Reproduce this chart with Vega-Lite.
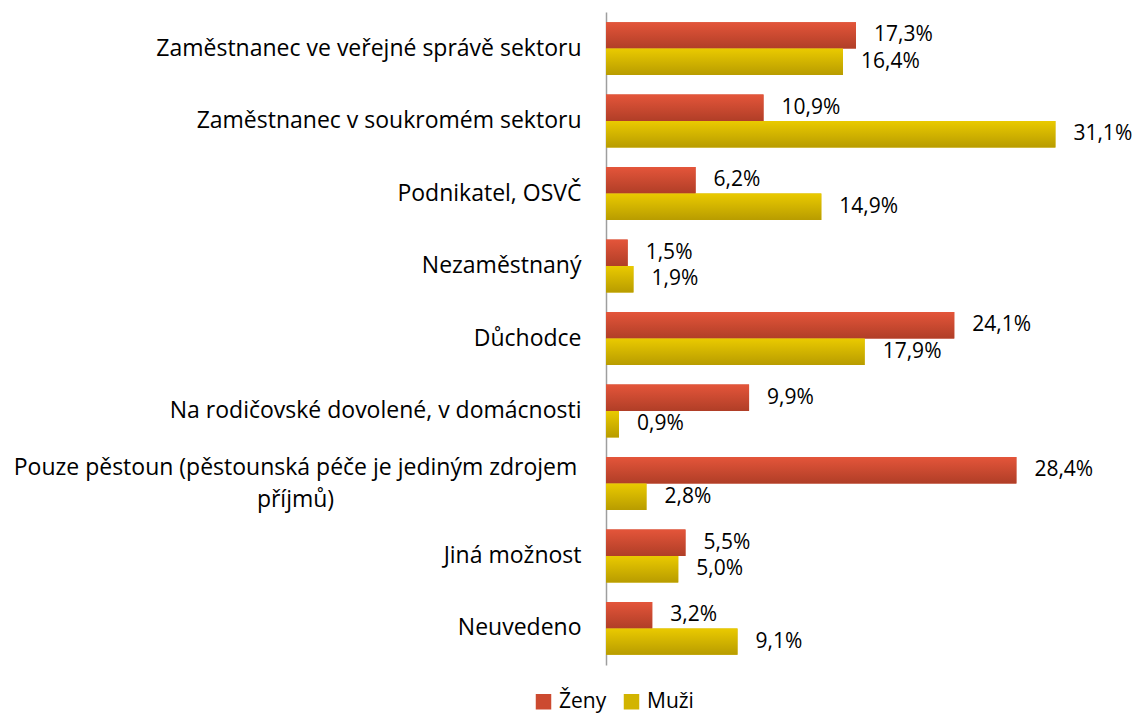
{
  "$schema": "https://vega.github.io/schema/vega-lite/v6.json",
  "autosize": "none",
  "width": 500,
  "height": 653,
  "padding": {"left": 606, "top": 12, "right": 35, "bottom": 50},
  "background": "white",
  "data": {
    "values": [
      {"kategorie": "Zaměstnanec ve veřejné správě sektoru", "pohlavi": "Ženy", "podil": 17.3},
      {"kategorie": "Zaměstnanec ve veřejné správě sektoru", "pohlavi": "Muži", "podil": 16.4},
      {"kategorie": "Zaměstnanec v soukromém sektoru", "pohlavi": "Ženy", "podil": 10.9},
      {"kategorie": "Zaměstnanec v soukromém sektoru", "pohlavi": "Muži", "podil": 31.1},
      {"kategorie": "Podnikatel, OSVČ", "pohlavi": "Ženy", "podil": 6.2},
      {"kategorie": "Podnikatel, OSVČ", "pohlavi": "Muži", "podil": 14.9},
      {"kategorie": "Nezaměstnaný", "pohlavi": "Ženy", "podil": 1.5},
      {"kategorie": "Nezaměstnaný", "pohlavi": "Muži", "podil": 1.9},
      {"kategorie": "Důchodce", "pohlavi": "Ženy", "podil": 24.1},
      {"kategorie": "Důchodce", "pohlavi": "Muži", "podil": 17.9},
      {"kategorie": "Na rodičovské dovolené, v domácnosti", "pohlavi": "Ženy", "podil": 9.9},
      {"kategorie": "Na rodičovské dovolené, v domácnosti", "pohlavi": "Muži", "podil": 0.9},
      {"kategorie": "Pouze pěstoun (pěstounská péče je jediným zdrojem příjmů)", "pohlavi": "Ženy", "podil": 28.4},
      {"kategorie": "Pouze pěstoun (pěstounská péče je jediným zdrojem příjmů)", "pohlavi": "Muži", "podil": 2.8},
      {"kategorie": "Jiná možnost", "pohlavi": "Ženy", "podil": 5.5},
      {"kategorie": "Jiná možnost", "pohlavi": "Muži", "podil": 5.0},
      {"kategorie": "Neuvedeno", "pohlavi": "Ženy", "podil": 3.2},
      {"kategorie": "Neuvedeno", "pohlavi": "Muži", "podil": 9.1}
    ]
  },
  "transform": [
    {"calculate": "replace(format(datum.podil, '.1f'), '.', ',') + '%'", "as": "stitek"}
  ],
  "encoding": {
    "y": {
      "field": "kategorie",
      "type": "nominal",
      "sort": null,
      "scale": {"paddingInner": 0.27, "paddingOuter": 0.14},
      "axis": {
        "title": null,
        "ticks": false,
        "domain": true,
        "domainColor": "#9E9E9E",
        "domainWidth": 1.5,
        "labelFont": "Open Sans",
        "labelFontSize": 23,
        "labelColor": "#000000",
        "labelLimit": 700,
        "labelLineHeight": 32,
        "labelExpr": "datum.value == 'Pouze pěstoun (pěstounská péče je jediným zdrojem příjmů)' ? ['Pouze pěstoun (pěstounská péče je jediným zdrojem', 'příjmů)'] : datum.value",
        "labelAlign": {"condition": {"test": "datum.value == 'Pouze pěstoun (pěstounská péče je jediným zdrojem příjmů)'", "value": "center"}, "value": "right"},
        "labelPadding": {"condition": {"test": "datum.value == 'Pouze pěstoun (pěstounská péče je jediným zdrojem příjmů)'", "value": 311}, "value": 25},
        "labelOffset": {"condition": {"test": "datum.value == 'Pouze pěstoun (pěstounská péče je jediným zdrojem příjmů)'", "value": -15}, "value": 0}
      }
    },
    "yOffset": {
      "field": "pohlavi",
      "sort": ["Ženy", "Muži"],
      "scale": {"domain": ["Ženy", "Muži"], "paddingInner": 0, "paddingOuter": 0}
    },
    "x": {
      "field": "podil",
      "type": "quantitative",
      "scale": {"domain": [0, 34.6]},
      "axis": null
    }
  },
  "layer": [
    {
      "mark": {"type": "bar"},
      "encoding": {
        "color": {
          "field": "pohlavi",
          "type": "nominal",
          "sort": ["Ženy", "Muži"],
          "scale": {"domain": ["Ženy", "Muži"], "range": ["#CC4A30", "#D2B400"]},
          "legend": {
            "orient": "none",
            "legendX": -73,
            "legendY": 679,
            "direction": "horizontal",
            "title": null,
            "labelFont": "Open Sans",
            "labelFontSize": 21,
            "labelColor": "#000000",
            "symbolType": "square",
            "symbolSize": 240,
            "symbolStrokeWidth": 0,
            "columnPadding": 14,
            "labelOffset": 5
          }
        }
      }
    },
    {
      "transform": [{"filter": "datum.pohlavi == 'Ženy'"}],
      "mark": {"type": "bar", "fill": {"gradient": "linear", "x1": 0, "y1": 0, "x2": 0, "y2": 1, "stops": [{"offset": 0, "color": "#E4553A"}, {"offset": 1, "color": "#B03E27"}]}}
    },
    {
      "transform": [{"filter": "datum.pohlavi == 'Muži'"}],
      "mark": {"type": "bar", "fill": {"gradient": "linear", "x1": 0, "y1": 0, "x2": 0, "y2": 1, "stops": [{"offset": 0, "color": "#EACA00"}, {"offset": 1, "color": "#B89C00"}]}}
    },
    {
      "mark": {"type": "text", "align": "left", "baseline": "middle", "dx": 18, "font": "Open Sans", "fontSize": 21, "color": "#000000"},
      "encoding": {"text": {"field": "stitek"}}
    }
  ],
  "config": {"view": {"stroke": null}}
}
